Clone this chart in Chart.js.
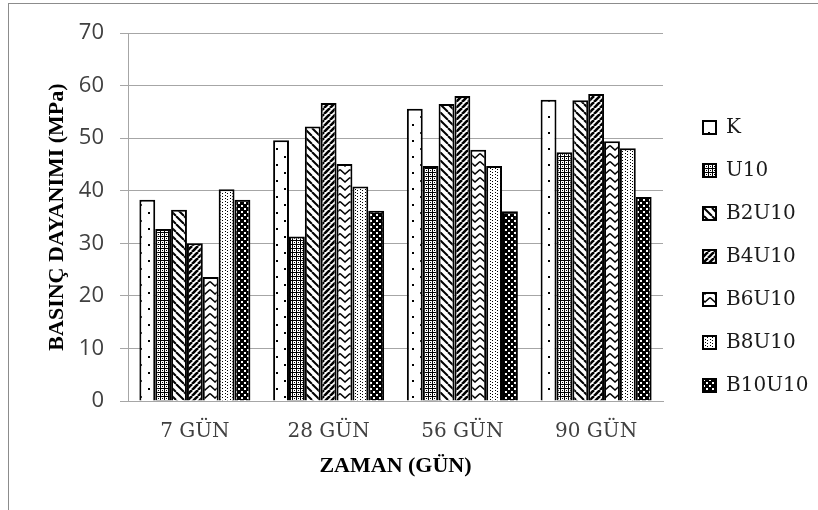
<!DOCTYPE html>
<html>
<head>
<meta charset="utf-8">
<script src="https://cdn.jsdelivr.net/npm/chart.js@4.4.1/dist/chart.umd.min.js"></script>
<style>
  html, body { margin: 0; padding: 0; background: #fff; overflow: hidden; }
  #wrap { position: relative; width: 818px; height: 510px; }
  #frame { position: absolute; left: 8px; top: 3px; width: 2000px; height: 2000px;
           border-left: 1px solid #8c8c8c; border-top: 1px solid #8c8c8c; pointer-events: none; }
  canvas { position: absolute; left: 0; top: 0; }
</style>
</head>
<body>
<div id="wrap">
  <div id="frame"></div>
  <canvas id="chart" width="818" height="510"></canvas>
</div>
<script>
// Curing ages
const categories = ['7 GÜN', '28 GÜN', '56 GÜN', '90 GÜN'];

// Compressive strength (MPa) per mix
const K      = [38.3, 49.6, 55.6, 57.3];
const U10    = [32.7, 31.3, 44.7, 47.3];
const B2U10  = [36.4, 52.2, 56.5, 57.2];
const B4U10  = [30.0, 56.7, 58.0, 58.4];
const B6U10  = [23.6, 45.1, 47.8, 49.4];
const B8U10  = [40.3, 40.8, 44.7, 48.1];
const B10U10 = [38.3, 36.2, 36.1, 38.8];

const seriesNames = ['K', 'U10', 'B2U10', 'B4U10', 'B6U10', 'B8U10', 'B10U10'];
const seriesValues = [K, U10, B2U10, B4U10, B6U10, B8U10, B10U10];

const yTicks = [0, 10, 20, 30, 40, 50, 60, 70];

// Monochrome hatch fills, one per mix
function tile(w, h, draw) {
  const c = document.createElement('canvas');
  c.width = w; c.height = h;
  const g = c.getContext('2d');
  g.fillStyle = '#fff';
  g.fillRect(0, 0, w, h);
  g.fillStyle = '#000';
  g.strokeStyle = '#000';
  draw(g, w, h);
  return document.getElementById('chart').getContext('2d').createPattern(c, 'repeat');
}

const fills = [
  // sparse dots
  tile(16, 16, g => { g.fillRect(4, 4, 2, 2); g.fillRect(12, 12, 2, 2); }),
  // fine dark mesh
  tile(4, 4, g => { g.fillRect(0, 0, 4, 1); g.fillRect(0, 0, 1, 4); g.fillRect(2, 2, 1, 1); }),
  // wide downward diagonal
  tile(8, 8, g => {
    g.lineWidth = 2;
    for (let k = -8; k <= 16; k += 8) {
      g.beginPath(); g.moveTo(k, 0); g.lineTo(k + 8, 8); g.stroke();
    }
  }),
  // wide upward diagonal, heavier
  tile(6, 6, g => {
    g.lineWidth = 2.6;
    for (let k = -6; k <= 12; k += 6) {
      g.beginPath(); g.moveTo(k, 6); g.lineTo(k + 6, 0); g.stroke();
    }
  }),
  // waves
  tile(10, 8, g => {
    g.lineWidth = 1.6;
    g.beginPath(); g.moveTo(0, 1.5); g.lineTo(5, 6); g.lineTo(10, 1.5); g.stroke();
  }),
  // dotted verticals
  tile(5, 3, g => { g.fillRect(2, 1, 1, 1); g.fillRect(0, 0, 1, 1); }),
  // dark large confetti
  tile(6, 6, g => {
    g.fillRect(0, 0, 6, 6);
    g.fillStyle = '#fff';
    g.fillRect(1, 1, 2, 2); g.fillRect(4, 4, 2, 2);
  })
];

const datasets = seriesNames.map((name, i) => ({
  label: name,
  data: seriesValues[i],
  backgroundColor: fills[i],
  borderColor: '#000',
  borderWidth: 2,
  categoryPercentage: 0.83,
  barPercentage: 1.0
}));

const gridColor = '#a6a6a6';
const tickColor = '#404040';

new Chart(document.getElementById('chart'), {
  type: 'bar',
  data: { labels: categories, datasets },
  options: {
    responsive: false,
    animation: false,
    layout: { padding: { left: 30, right: 8, top: 33, bottom: 30 } },
    plugins: {
      tooltip: { enabled: false },
      legend: {
        position: 'right',
        labels: {
          boxWidth: 13,
          boxHeight: 13,
          padding: 23,
          color: '#1a1a1a',
          font: { family: '"DejaVu Serif", "Liberation Serif", serif', size: 20 }
        }
      }
    },
    scales: {
      x: {
        grid: { display: false, drawTicks: false },
        border: { display: true, color: gridColor, width: 1 },
        ticks: {
          color: tickColor,
          padding: 19,
          font: { family: '"DejaVu Serif", "Liberation Serif", serif', size: 20 }
        },
        title: {
          display: true,
          text: 'ZAMAN (GÜN)',
          color: '#000',
          padding: { top: 0, bottom: 0 },
          font: { family: '"Liberation Serif", serif', size: 22, weight: 'bold' }
        },
        afterFit(s) { s.height = 79; }
      },
      y: {
        min: 0,
        max: 70,
        afterBuildTicks(s) { s.ticks = yTicks.map(v => ({ value: v })); },
        grid: { color: gridColor, lineWidth: 1, tickLength: 8, drawTicks: true },
        border: { display: true, color: gridColor, width: 1 },
        ticks: {
          color: tickColor,
          padding: 16,
          font: { family: '"Open Sans", "Liberation Sans", sans-serif', size: 22 }
        },
        title: {
          display: true,
          text: 'BASINÇ DAYANIMI (MPa)',
          color: '#000',
          padding: { top: 14, bottom: 0 },
          font: { family: '"Liberation Serif", serif', size: 22, weight: 'bold' }
        },
        afterFit(s) { s.width = 98; }
      },
      gap: {
        type: 'linear',
        position: 'right',
        grid: { display: false, drawTicks: false },
        border: { display: false },
        ticks: { display: false },
        afterFit(s) { s.width = 17; }
      }
    }
  }
});
</script>
</body>
</html>
